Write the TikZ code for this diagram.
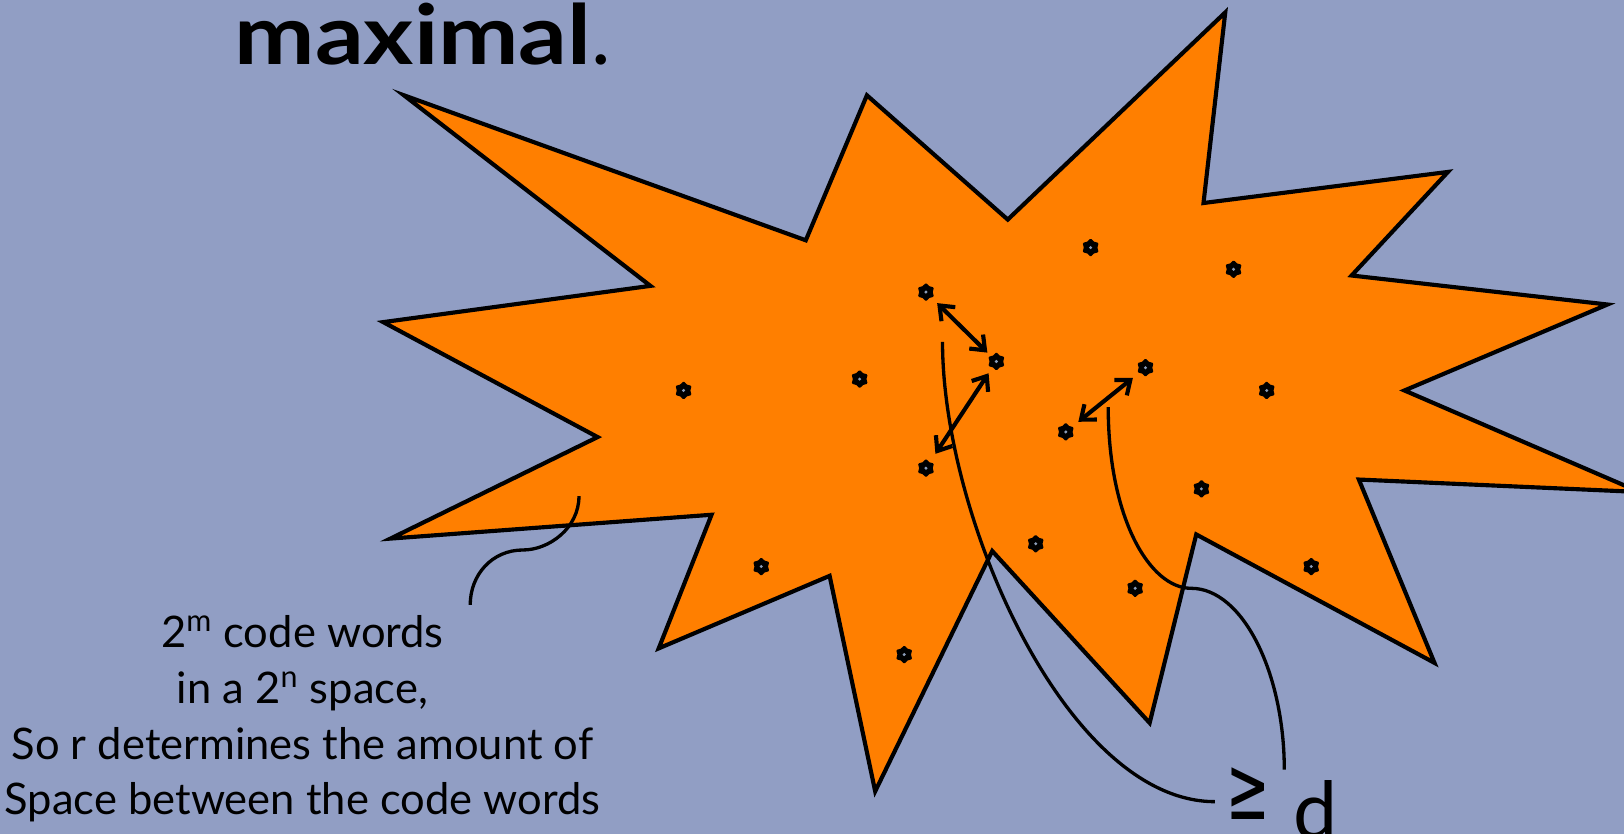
\documentclass[tikz,border=0pt]{standalone}
\usepackage{fontspec}
\setmainfont{Lato}
\newfontfamily\symfont{DejaVu Sans}
\usetikzlibrary{arrows.meta,shapes.geometric}
\definecolor{slide}{HTML}{919EC4}
\definecolor{burst}{HTML}{FF7F00}
\definecolor{pip}{HTML}{8A9CB8}
\tikzset{
  burstline/.style={draw=black,fill=burst,line width=2pt,line join=miter},
  word/.style={star,star points=6,star point ratio=1.35,fill=black,draw=black,
    line width=1pt,line join=round,inner sep=0pt,minimum size=7.5pt,outer sep=0pt,
    path picture={\fill[pip] (path picture bounding box.center) circle (0.8pt);}},
  gap/.style={{Straight Barb[length=6pt,width=9.5pt]}-{Straight Barb[length=6pt,width=9.5pt]},
    line width=2pt},
  brace/.style={line width=1.6pt},
  note/.style={align=center,font=\fontsize{21}{27}\selectfont,inner sep=0pt},
}

\begin{document}
\begin{tikzpicture}[x=0.5pt,y=-0.5pt]
  \fill[slide] (0,0) rectangle (1568,805);
  \useasboundingbox (0,0) rectangle (1568,805);
  \begin{scope}
    \clip (0,0) rectangle (1568,805);
    \draw[burstline] (390,92) -- (778,232) -- (837,92) -- (973,212) -- (1183,12)
      -- (1162,196) -- (1398,166) -- (1305,266) -- (1552,294) -- (1356,377)
      -- (1583,475) -- (1312,463) -- (1385,640) -- (1155,516) -- (1110,698)
      -- (958,532) -- (845,764) -- (801,556) -- (636,626) -- (687,497)
      -- (377,520) -- (577,422) -- (370,311) -- (628,276) -- cycle;
  \end{scope}

  \node[anchor=base west,inner sep=0pt,font=\fontsize{40}{48}\selectfont] (title)
    at (226,62) {\scalebox{1.16}[1]{\textbf{maximal}}.};

  \foreach \n/\x/\y in {1/894/282, 2/1053/239, 3/1191/260, 4/962/349,
      5/830/366, 6/660/377, 7/1106/355, 8/1223/377, 9/1029/417, 10/894/452,
      11/1160/472, 12/1000/525, 13/1266/547, 14/735/547, 15/1096/568, 16/873/632}
    \node[word] (w\n) at (\x,\y) {};

  \draw[gap,shorten <=4.5pt,shorten >=3pt] (w1) -- (w4);
  \draw[gap,shorten <=4pt,shorten >=5.5pt] (w4) -- (w10);
  \draw[gap,shorten <=4.5pt,shorten >=4.5pt] (w7) -- (w9);

  \node[note] (txt) at (292,694) {2\textsuperscript{m} code words\\
    in a 2\textsuperscript{n} space,\\
    So r determines the amount of\\
    Space between the code words};
  \node[anchor=base west,inner sep=0pt,font=\fontsize{38}{46}\selectfont] (geq)
    at (1184,810) {\makebox[32pt][l]{\raisebox{9.5pt}{\resizebox*{21pt}{25pt}{\symfont ≥}}}d};

  \coordinate (s1) at (910,330);
  \coordinate (e1) at (1173,774);
  \coordinate (s2) at (1070,393);
  \coordinate (m2) at (1150,568);
  \coordinate (e2) at (1240,743);
  \coordinate (s3) at (559,479);
  \coordinate (m3) at (505,531);
  \coordinate (e3) at (454,584);
  \draw[brace] (s1) .. controls (910,500) and (1030,774) .. (e1);
  \draw[brace] (s2) .. controls (1070,500) and (1110,568) .. (m2)
    .. controls (1200,568) and (1240,650) .. (e2);
  \draw[brace] (s3) .. controls (559,510) and (530,531) .. (m3)
    .. controls (475,531) and (454,555) .. (e3);
\end{tikzpicture}
\end{document}
